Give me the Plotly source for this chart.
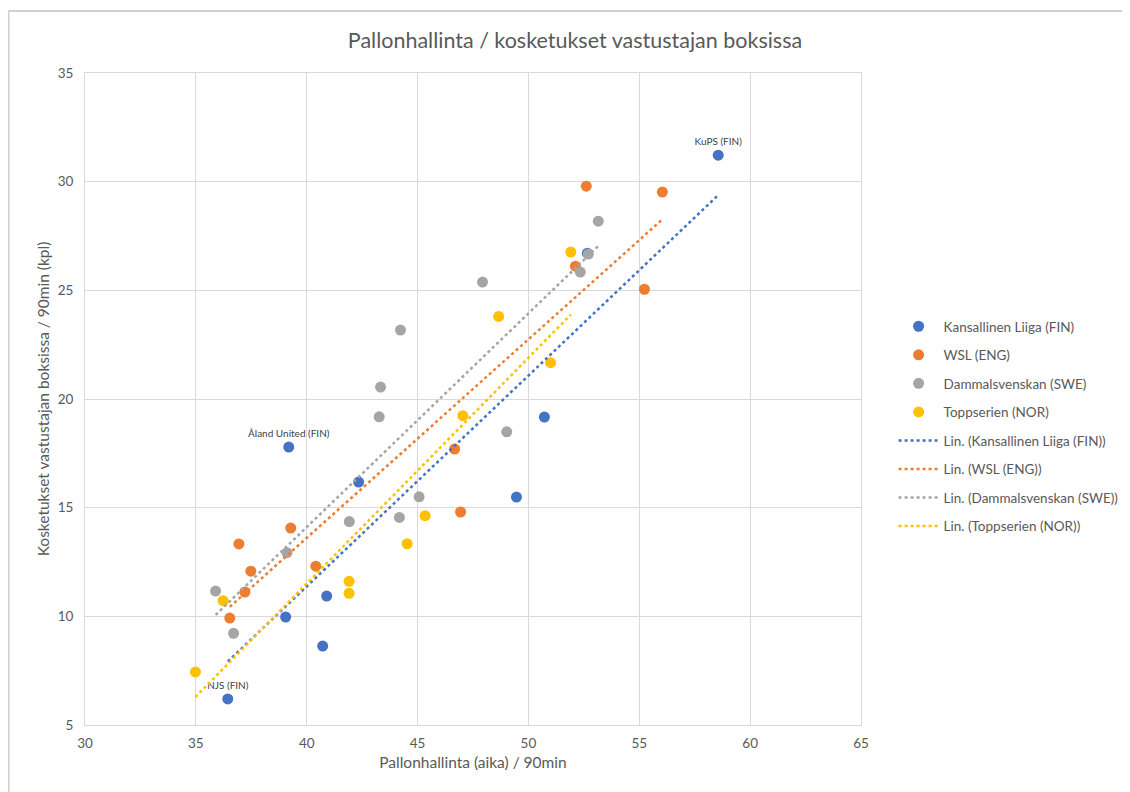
import numpy as np
import plotly.graph_objects as go

# ---- data ----
series_names = ["Kansallinen Liiga (FIN)", "WSL (ENG)", "Dammalsvenskan (SWE)", "Toppserien (NOR)"]
colors = ["#4472C4", "#ED7D31", "#A5A5A5", "#FFC000"]

fin_x = [58.56, 52.66, 50.72, 49.46, 42.34, 39.19, 40.90, 39.05, 40.72, 36.44]
fin_y = [31.22, 26.71, 19.17, 15.49, 16.18, 17.79, 10.93, 9.97, 8.63, 6.20]
fin_labels = ["KuPS (FIN)", "", "", "", "", "Åland United (FIN)", "", "", "", "NJS (FIN)"]

eng_x = [52.61, 56.04, 52.12, 55.23, 46.67, 46.94, 39.28, 36.94, 37.48, 40.41, 37.21, 36.53]
eng_y = [29.79, 29.52, 26.11, 25.05, 17.70, 14.80, 14.06, 13.33, 12.08, 12.31, 11.12, 9.92]

swe_x = [53.15, 52.70, 52.34, 47.93, 44.23, 43.33, 43.27, 49.02, 45.07, 41.92, 44.18, 39.11, 35.89, 36.70]
swe_y = [28.18, 26.67, 25.84, 25.38, 23.17, 20.55, 19.18, 18.49, 15.50, 14.36, 14.55, 12.93, 11.16, 9.22]

nor_x = [51.91, 48.66, 51.00, 47.04, 45.34, 44.53, 41.91, 41.91, 36.23, 34.98]
nor_y = [26.76, 23.80, 21.67, 19.23, 14.63, 13.34, 11.61, 11.06, 10.72, 7.44]

xs = [fin_x, eng_x, swe_x, nor_x]
ys = [fin_y, eng_y, swe_y, nor_y]
texts = [fin_labels, None, None, None]

title = "Pallonhallinta / kosketukset vastustajan boksissa"
x_title = "Pallonhallinta (aika) / 90min"
y_title = "Kosketukset vastustajan boksissa / 90min (kpl)"

FONT = "Lato"
GRAY = "#595959"
GRID = "#D9D9D9"

fig = go.Figure()

for i, name in enumerate(series_names):
    if texts[i] is not None:
        kw = dict(mode="markers+text", text=texts[i], textposition="top center",
                  textfont=dict(family=FONT, size=10, color="#404040"))
    else:
        kw = dict(mode="markers")
    fig.add_trace(go.Scatter(
        x=xs[i], y=ys[i], name=name, legendgroup="g%d" % i,
        marker=dict(color=colors[i], size=11, line=dict(width=0)),
        cliponaxis=False, **kw))

for i, name in enumerate(series_names):
    x = np.array(xs[i]); y = np.array(ys[i])
    m, b = np.polyfit(x, y, 1)
    xl = np.array([x.min(), x.max()])
    fig.add_trace(go.Scatter(
        x=xl, y=m * xl + b, mode="lines", name="Lin. (%s)" % name,
        legendgroup="l%d" % i,
        line=dict(color=colors[i], width=2.5, dash="dot"), hoverinfo="skip"))

axis_common = dict(showgrid=True, gridcolor=GRID, gridwidth=1, zeroline=False,
                   showline=True, linecolor=GRID, linewidth=1, mirror=True,
                   tickfont=dict(family=FONT, size=13.5, color=GRAY),
                   title_font=dict(family=FONT, size=15.5, color=GRAY))

fig.update_xaxes(range=[30, 65], dtick=5, title_text=x_title,
                 ticks="outside", ticklen=6, tickcolor="rgba(0,0,0,0)",
                 title_standoff=6, **axis_common)
fig.update_yaxes(range=[5, 35], dtick=5, title_text=y_title,
                 ticks="outside", ticklen=8, tickcolor="rgba(0,0,0,0)",
                 title_standoff=4, **axis_common)

# chart border (top and left edges visible)
fig.add_shape(type="line", xref="paper", yref="paper", x0=-0.0986, x1=1.4,
              y0=1.0951, y1=1.0951, line=dict(color="#D0D0D0", width=2))
fig.add_shape(type="line", xref="paper", yref="paper", x0=-0.0986, x1=-0.0986,
              y0=1.0951, y1=-0.13, line=dict(color="#D0D0D0", width=2))

fig.update_layout(
    width=1130, height=792,
    margin=dict(l=77, r=277, t=65, b=75),
    paper_bgcolor="white", plot_bgcolor="white",
    title=dict(text=title, x=567 / 1130, xref="container", y=1 - 32 / 792,
               yref="container", yanchor="middle", xanchor="center",
               font=dict(family=FONT, size=21.5, color=GRAY)),
    legend=dict(x=1.042, y=0.635, xanchor="left", yanchor="top",
                traceorder="grouped", tracegroupgap=8.0, itemwidth=40,
                font=dict(family=FONT, size=13.5, color=GRAY),
                bgcolor="rgba(0,0,0,0)"),
    showlegend=True,
)

fig.write_html("out.html")
